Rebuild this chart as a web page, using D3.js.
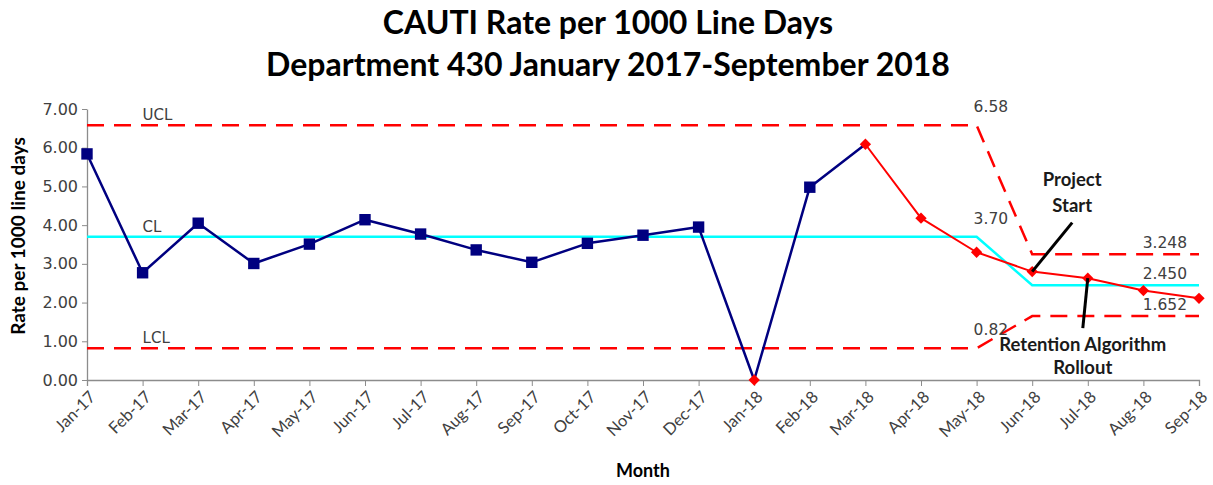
<!DOCTYPE html>
<html>
<head>
<meta charset="utf-8">
<script src="https://cdn.jsdelivr.net/npm/d3@7"></script>
<style>
  body { margin: 0; background: #fff; }
  svg { display: block; }
</style>
</head>
<body>
<svg id="chart"></svg>
<script>
// months on the x axis
const months = ['Jan-17', 'Feb-17', 'Mar-17', 'Apr-17', 'May-17', 'Jun-17', 'Jul-17',
  'Aug-17', 'Sep-17', 'Oct-17', 'Nov-17', 'Dec-17', 'Jan-18', 'Feb-18', 'Mar-18',
  'Apr-18', 'May-18', 'Jun-18', 'Jul-18', 'Aug-18', 'Sep-18'];

// CAUTI rate per 1000 line days
const rates = [5.84, 2.77, 4.05, 3.01, 3.51, 4.14, 3.77, 3.36, 3.04, 3.53, 3.74, 3.95,
  0.00, 4.98, 6.09, 4.18, 3.30, 2.80, 2.63, 2.31, 2.11];

// control limits for each month
const ucl = [6.58, 6.58, 6.58, 6.58, 6.58, 6.58, 6.58, 6.58, 6.58, 6.58, 6.58, 6.58,
  6.58, 6.58, 6.58, 6.58, 6.58, 3.248, 3.248, 3.248, 3.248];
const cl = [3.70, 3.70, 3.70, 3.70, 3.70, 3.70, 3.70, 3.70, 3.70, 3.70, 3.70, 3.70,
  3.70, 3.70, 3.70, 3.70, 3.70, 2.450, 2.450, 2.450, 2.450];
const lcl = [0.82, 0.82, 0.82, 0.82, 0.82, 0.82, 0.82, 0.82, 0.82, 0.82, 0.82, 0.82,
  0.82, 0.82, 0.82, 0.82, 0.82, 1.652, 1.652, 1.652, 1.652];

// months plotted with red markers, and where the red segment starts
const flagged = ['Jan-18', 'Mar-18', 'Apr-18', 'May-18', 'Jun-18', 'Jul-18', 'Aug-18', 'Sep-18'];
const redStart = 'Mar-18';
const limitChange = 'May-18';

const yTicks = [0, 1, 2, 3, 4, 5, 6, 7];

const titleLines = ['CAUTI Rate per 1000 Line Days', 'Department 430 January 2017-September 2018'];

const annotations = [
  { month: 'Jun-18', lines: ['Project', 'Start'], dx: 40, dy: -49, tx: 40, ty: [-86, -60] },
  { month: 'Jul-18', lines: ['Retention Algorithm', 'Rollout'], dx: -5, dy: 50, tx: -5, ty: [73, 96] }
];

const svgWidth = 1213, svgHeight = 485;
const margin = { top: 109, right: 14, bottom: 105, left: 87 };
const width = svgWidth - margin.left - margin.right;
const height = svgHeight - margin.top - margin.bottom;

const svg = d3.select('#chart').attr('width', svgWidth).attr('height', svgHeight);

// title
svg.append('g').selectAll('text')
  .data(titleLines)
  .enter().append('text')
  .attr('x', 608)
  .attr('y', (d, i) => 34 + i * 42)
  .attr('text-anchor', 'middle')
  .attr('font-family', 'Lato, sans-serif')
  .attr('font-weight', 'bold')
  .attr('font-size', '32px')
  .attr('fill', '#000')
  .text((d) => d);

const g = svg.append('g').attr('transform', 'translate(' + margin.left + ',' + margin.top + ')');

const x = d3.scalePoint().domain(months).range([0, width]);
const y = d3.scaleLinear().domain([0, 7]).range([height, 0]);

// axes
const xAxis = g.append('g')
  .attr('transform', 'translate(0,' + height + ')')
  .call(d3.axisBottom(x).tickSizeOuter(0).tickSize(6));
xAxis.selectAll('line').attr('stroke', '#8c8c8c');
xAxis.select('.domain').attr('stroke', '#8c8c8c').attr('stroke-width', 1.3);
xAxis.selectAll('text')
  .attr('font-family', 'Lato, sans-serif')
  .attr('font-size', '16.5px')
  .attr('fill', '#404040')
  .attr('text-anchor', 'end')
  .attr('x', 0)
  .attr('y', 0)
  .attr('dx', 0)
  .attr('dy', '0.35em')
  .attr('transform', 'translate(5,14) rotate(-45)');

const yAxis = g.append('g')
  .call(d3.axisLeft(y).tickValues(yTicks).tickFormat(d3.format('.2f')).tickSize(5).tickSizeOuter(0));
yAxis.selectAll('line').attr('stroke', '#8c8c8c');
yAxis.select('.domain').attr('stroke', '#8c8c8c').attr('stroke-width', 1.3);
yAxis.selectAll('text')
  .attr('font-family', 'DejaVu Sans, sans-serif')
  .attr('font-size', '16px')
  .attr('fill', '#404040')
  .attr('x', -9);

// axis titles
svg.append('text')
  .attr('transform', 'translate(25,236) rotate(-90)')
  .attr('text-anchor', 'middle')
  .attr('font-family', 'Lato, sans-serif')
  .attr('font-weight', 'bold')
  .attr('font-size', '19px')
  .attr('fill', '#000')
  .text('Rate per 1000 line days');

svg.append('text')
  .attr('x', 643)
  .attr('y', 477)
  .attr('text-anchor', 'middle')
  .attr('font-family', 'Lato, sans-serif')
  .attr('font-weight', 'bold')
  .attr('font-size', '18px')
  .attr('fill', '#000')
  .text('Month');

// control limit lines
const limitLine = (arr) => d3.line()
  .x((d, i) => x(months[i]))
  .y((d) => y(d))(arr);

g.append('path')
  .attr('d', limitLine(ucl))
  .attr('fill', 'none').attr('stroke', '#ff0000').attr('stroke-width', 2.5)
  .attr('stroke-dasharray', '17,10');
g.append('path')
  .attr('d', limitLine(lcl))
  .attr('fill', 'none').attr('stroke', '#ff0000').attr('stroke-width', 2.5)
  .attr('stroke-dasharray', '17,10');
g.append('path')
  .attr('d', limitLine(cl))
  .attr('fill', 'none').attr('stroke', '#00ffff').attr('stroke-width', 2.5);

// UCL / CL / LCL names
const limitNames = [['UCL', ucl[0]], ['CL', cl[0]], ['LCL', lcl[0]]];
g.selectAll('.limit-name')
  .data(limitNames)
  .enter().append('text')
  .attr('class', 'limit-name')
  .attr('x', x(months[1]))
  .attr('y', (d) => y(d[1]) - 5)
  .attr('font-family', 'DejaVu Sans, sans-serif')
  .attr('font-size', '15px')
  .attr('fill', '#404040')
  .text((d) => d[0]);

// limit values before and after the change
const ci = months.indexOf(limitChange);
const last = months.length - 1;
const leftVals = [ucl[ci], cl[ci], lcl[ci]];
const rightVals = [ucl[last], cl[last], lcl[last]];

g.selectAll('.left-val')
  .data(leftVals)
  .enter().append('text')
  .attr('class', 'left-val')
  .attr('x', x(limitChange) - 3)
  .attr('y', (d) => y(d) - 13)
  .attr('font-family', 'DejaVu Sans, sans-serif')
  .attr('font-size', '15.5px')
  .attr('fill', '#404040')
  .text((d) => d3.format('.2f')(d));

g.selectAll('.right-val')
  .data(rightVals)
  .enter().append('text')
  .attr('class', 'right-val')
  .attr('x', x(months[last]) - 12)
  .attr('y', (d) => y(d) - 6)
  .attr('text-anchor', 'end')
  .attr('font-family', 'DejaVu Sans, sans-serif')
  .attr('font-size', '15.5px')
  .attr('fill', '#404040')
  .text((d) => d3.format('.3f')(d));

// data lines
const data = months.map((m, i) => ({ month: m, value: rates[i] }));
const rs = months.indexOf(redStart);
const line = d3.line().x((d) => x(d.month)).y((d) => y(d.value));

g.append('path')
  .datum(data.slice(0, rs + 1))
  .attr('fill', 'none').attr('stroke', '#000080').attr('stroke-width', 2.5)
  .attr('stroke-linejoin', 'round')
  .attr('d', line);
g.append('path')
  .datum(data.slice(rs))
  .attr('fill', 'none').attr('stroke', '#ff0000').attr('stroke-width', 2)
  .attr('stroke-linejoin', 'round')
  .attr('d', line);

// markers
g.selectAll('.sq')
  .data(data.filter((d) => !flagged.includes(d.month)))
  .enter().append('path')
  .attr('class', 'sq')
  .attr('transform', (d) => 'translate(' + x(d.month) + ',' + y(d.value) + ')')
  .attr('d', d3.symbol(d3.symbolSquare, 130))
  .attr('fill', '#000080');

g.selectAll('.dia')
  .data(data.filter((d) => flagged.includes(d.month)))
  .enter().append('path')
  .attr('class', 'dia')
  .attr('transform', (d) => 'translate(' + x(d.month) + ',' + y(d.value) + ') rotate(45)')
  .attr('d', d3.symbol(d3.symbolSquare, 64))
  .attr('fill', '#ff0000');

// annotations
annotations.forEach((a) => {
  const px = x(a.month), py = y(rates[months.indexOf(a.month)]);
  g.append('line')
    .attr('x1', px + a.dx).attr('y1', py + a.dy)
    .attr('x2', px).attr('y2', py)
    .attr('stroke', '#000').attr('stroke-width', 3);
  a.lines.forEach((t, i) => {
    g.append('text')
      .attr('x', px + a.tx)
      .attr('y', py + a.ty[i])
      .attr('text-anchor', 'middle')
      .attr('font-family', 'Lato, sans-serif')
      .attr('font-weight', 'bold')
      .attr('font-size', '18.5px')
      .attr('fill', '#1a1a1a')
      .text(t);
  });
});
</script>
</body>
</html>
